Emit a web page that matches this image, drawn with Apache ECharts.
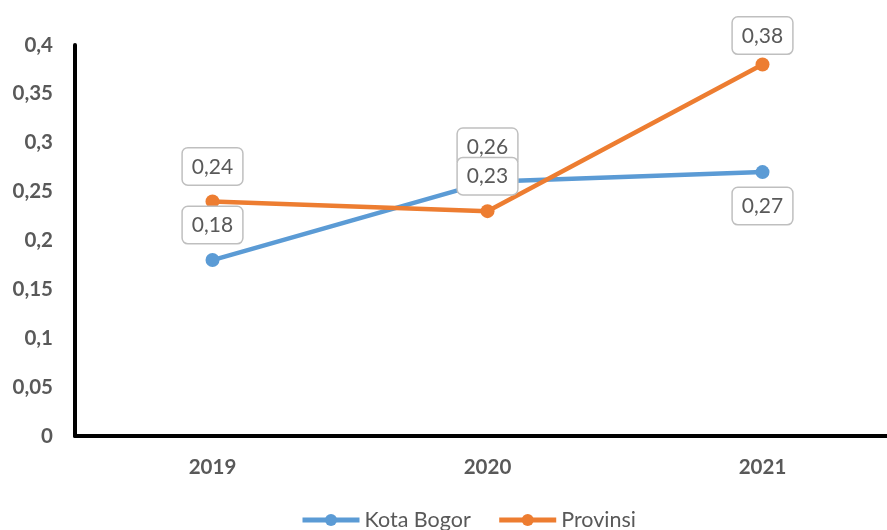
<!DOCTYPE html>
<html>
<head>
<meta charset="utf-8">
<style>html,body{margin:0;padding:0;background:#fff;}#c{width:887px;height:530px;}</style>
<script src="https://cdn.jsdelivr.net/npm/echarts@6/dist/echarts.min.js"></script>
</head>
<body>
<div id="c"></div>
<script>
var categories = ['2019', '2020', '2021'];
var kotaBogor = [0.18, 0.26, 0.27];
var provinsi = [0.24, 0.23, 0.38];
var seriesNames = ['Kota Bogor', 'Provinsi'];

function fmt(v) { return String(Math.round(v * 100) / 100).replace('.', ','); }

var labelBase = {
  show: true,
  formatter: function (p) { return fmt(p.value); },
  fontFamily: 'Lato',
  fontSize: 21,
  color: '#595959',
  backgroundColor: '#fff',
  borderColor: '#bfbfbf',
  borderWidth: 1.5,
  borderRadius: 5,
  padding: [8, 9, 7, 9]
};

function makeData(values, positions, distances) {
  return values.map(function (v, i) {
    return { value: v, label: { position: positions[i], distance: distances[i] } };
  });
}

var chart = echarts.init(document.getElementById('c'));
chart.setOption({
  animation: false,
  grid: { left: 75, top: 45, width: 825, height: 391, outerBoundsMode: 'none', containLabel: false },
  legend: {
    bottom: -1,
    left: 300,
    padding: 0,
    itemWidth: 57,
    itemHeight: 15,
    itemGap: 26,
    lineStyle: { width: 5 },
    textStyle: { fontFamily: 'Lato', fontSize: 21.5, color: '#595959' },
    data: seriesNames
  },
  xAxis: {
    type: 'category',
    data: categories,
    axisLine: { lineStyle: { color: '#000', width: 4 } },
    axisTick: { show: false },
    axisLabel: { margin: 21, fontFamily: 'Lato', fontWeight: 'bold', fontSize: 20.5, color: '#595959' }
  },
  yAxis: {
    type: 'value',
    min: 0, max: 0.4, interval: 0.05,
    axisLine: { show: true, lineStyle: { color: '#000', width: 4 } },
    axisTick: { show: false },
    splitLine: { show: false },
    axisLabel: { margin: 22, fontFamily: 'Lato', fontWeight: 'bold', fontSize: 20.5, color: '#595959', formatter: fmt }
  },
  series: [
    {
      name: seriesNames[0], type: 'line',
      data: makeData(kotaBogor, ['top', 'top', 'bottom'], [10, 10, 9]),
      color: '#5b9bd5',
      lineStyle: { width: 4.5, color: '#5b9bd5' },
      symbol: 'circle', symbolSize: 14,
      itemStyle: { color: '#5b9bd5' },
      label: labelBase
    },
    {
      name: seriesNames[1], type: 'line',
      data: makeData(provinsi, ['top', 'top', 'top'], [10, 10, 4]),
      color: '#ed7d31',
      lineStyle: { width: 4.5, color: '#ed7d31' },
      symbol: 'circle', symbolSize: 14,
      itemStyle: { color: '#ed7d31' },
      label: labelBase
    }
  ]
});
</script>
</body>
</html>
